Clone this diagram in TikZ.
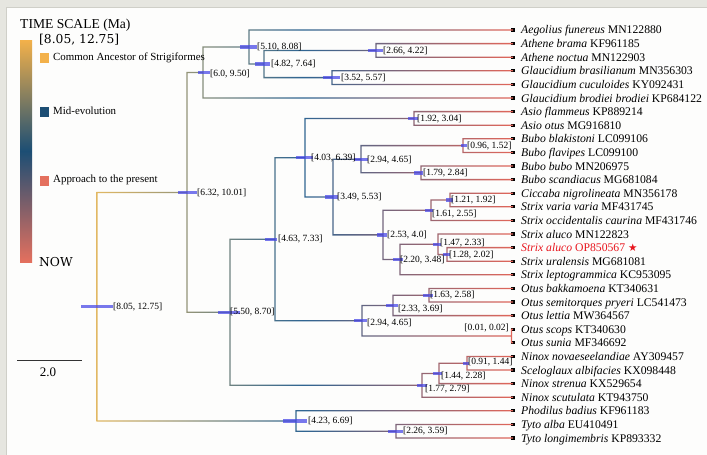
\documentclass[tikz,border=0pt]{standalone}
\usepackage{fontspec}
\setmainfont{Liberation Serif}
\newfontfamily\dvserif{DejaVu Serif}
\newfontfamily\dvsans{DejaVu Sans}
\usetikzlibrary{calc}
\definecolor{tgold}{HTML}{E5BA62}
\definecolor{tblue}{HTML}{2F6592}
\definecolor{tred}{HTML}{E2665A}
\definecolor{lgold}{HTML}{F3B14A}
\definecolor{lblue}{HTML}{1C4E74}
\definecolor{lred}{HTML}{E4705E}
\definecolor{hpdblue}{HTML}{4646E6}
\definecolor{bandgrey}{HTML}{E6E6E0}
\definecolor{edgegrey}{HTML}{CFCFC8}
\definecolor{paper}{HTML}{FDFDFC}
\definecolor{starred}{HTML}{E8141C}
\newcommand\w{0.65}
\newcommand\hpdbar[3]{\fill[hpd] ($(#1)+(-#2,-1.7)$) rectangle ($(#1)+(#3,1.7)$);}
\begin{document}
\begin{tikzpicture}[x=1pt,y=-1pt,
  nlab/.style={anchor=west, inner sep=0pt, font=\fontsize{9.5}{10}\selectfont},
  tiplab/.style={anchor=base west, inner sep=0pt, font=\fontsize{11.7}{13}\selectfont},
  tipsq/.style={rectangle, fill=black, inner sep=0pt, minimum size=3.3pt},
  hpd/.style={fill=hpdblue, fill opacity=0.72},
  legtxt/.style={anchor=west, inner sep=0pt, font=\fontsize{10.9}{12}\selectfont},
  legsq/.style={rectangle, inner sep=0pt, minimum size=9.5pt}]
\useasboundingbox (0,0) rectangle (707,455);
% frame
\fill[bandgrey] (0,0) rectangle (707,455);
\fill[paper] (6,7) rectangle (707,455);
\draw[edgegrey, line width=0.8pt] (6,455) -- (6,7) -- (707,7);

% tips
\foreach \i in {1,...,31} \node[tipsq] (t\i) at (513, {30+(\i-1)*13.6}) {};

% internal nodes
\coordinate (N266) at (376, 50.4);
\coordinate (N352) at (332, 77.6);
\coordinate (N482) at (264, 64);
\coordinate (N510) at (249, 47);
\coordinate (N600) at (203, 72.5);
\coordinate (N192) at (414, 118.4);
\coordinate (N096) at (463, 145.6);
\coordinate (N179) at (421, 172.8);
\coordinate (N294b) at (361, 159.2);
\coordinate (N121) at (450, 200);
\coordinate (N161) at (431, 210.2);
\coordinate (N128) at (447, 254.4);
\coordinate (N147) at (438, 244.2);
\coordinate (N220) at (400, 259.5);
\coordinate (N253) at (383, 234.85);
\coordinate (N349) at (333, 197);
\coordinate (N403) at (305, 157.7);
\coordinate (N163) at (429, 295.2);
\coordinate (N233) at (393, 305.4);
\coordinate (N001) at (511.5, 336);
\coordinate (N294o) at (362, 320.7);
\coordinate (N463) at (275, 239.2);
\coordinate (N091) at (467, 363.2);
\coordinate (N144) at (439, 373.4);
\coordinate (N177) at (422, 385.3);
\coordinate (N550) at (230, 312.25);
\coordinate (N632) at (187, 192.4);
\coordinate (N226) at (396, 431.2);
\coordinate (N423) at (296, 421);
\coordinate (root) at (97, 306.7);

% branches, coloured by time
\begin{scope}
\clip foreach \p/\a/\b in {N266/t2/t3, N352/t4/t5, N482/N266/N352, N510/t1/N482,
  N600/N510/t6, N192/t7/t8, N096/t9/t10, N179/t11/t12, N294b/N096/N179,
  N121/t13/t14, N161/N121/t15, N128/t17/t18, N147/t16/N128, N220/N147/t19,
  N253/N161/N220, N349/N294b/N253, N403/N192/N349, N163/t20/t21, N233/N163/t22,
  N001/t23/t24, N294o/N233/N001, N463/N403/N294o, N091/t25/t26, N144/N091/t27,
  N177/N144/t28, N550/N463/N177, N632/N600/N550, N226/t30/t31, N423/t29/N226,
  root/N632/N423} {
  ($(\p.center |- \a.center)+(-\w,-\w)$) rectangle ($(\p.center |- \b.center)+(\w,\w)$)
  ($(\p.center |- \a.center)+(0,-\w)$) rectangle ($(\a.center)+(0,\w)$)
  ($(\p.center |- \b.center)+(0,-\w)$) rectangle ($(\b.center)+(0,\w)$)
};
\shade[left color=tgold, right color=tred, middle color=tblue] (92,0) rectangle (514,455);
\end{scope}

% HPD bars
\hpdbar{root}{16}{16}
\hpdbar{N632}{9}{10}
\hpdbar{N600}{5}{7}
\hpdbar{N510}{9}{8}
\hpdbar{N482}{9}{6}
\hpdbar{N266}{8}{7}
\hpdbar{N352}{9}{8}
\hpdbar{N550}{12}{10}
\hpdbar{N463}{10}{2}
\hpdbar{N403}{9}{8}
\hpdbar{N192}{6}{4}
\hpdbar{N349}{8}{5}
\hpdbar{N294b}{7}{7}
\hpdbar{N096}{2}{4}
\hpdbar{N179}{7}{2}
\hpdbar{N253}{6}{4}
\hpdbar{N161}{6}{2}
\hpdbar{N121}{4}{3}
\hpdbar{N220}{7}{3}
\hpdbar{N147}{5}{3}
\hpdbar{N128}{4}{3}
\hpdbar{N294o}{8}{5}
\hpdbar{N233}{7}{5}
\hpdbar{N163}{6}{4}
\hpdbar{N177}{5}{5}
\hpdbar{N144}{6}{3}
\hpdbar{N091}{4}{2}
\hpdbar{N423}{13}{11}
\hpdbar{N226}{8}{7}

% node labels
\node[nlab] (Lroot) at (113,307) {[8.05, 12.75]};
\node[nlab] (L632) at (197,193) {[6.32, 10.01]};
\node[nlab] (L600) at (210,74) {[6.0, 9.50]};
\node[nlab] (L510) at (257,47) {[5.10, 8.08]};
\node[nlab] (L482) at (271,64) {[4.82, 7.64]};
\node[nlab] (L266) at (383,51) {[2.66, 4.22]};
\node[nlab] (L352) at (341,78) {[3.52, 5.57]};
\node[nlab] (L550) at (230,312) {[5.50, 8.70]};
\node[nlab] (L463) at (278,239) {[4.63, 7.33]};
\node[nlab] (L403) at (311,158) {[4.03, 6.39]};
\node[nlab] (L192) at (417,119) {[1.92, 3.04]};
\node[nlab] (L349) at (337,197) {[3.49, 5.53]};
\node[nlab] (L294b) at (367,160) {[2.94, 4.65]};
\node[nlab] (L096) at (467,146) {[0.96, 1.52]};
\node[nlab] (L179) at (423,173) {[1.79, 2.84]};
\node[nlab] (L253) at (387,235) {[2.53, 4.0]};
\node[nlab] (L161) at (432,214) {[1.61, 2.55]};
\node[nlab] (L121) at (451,200) {[1.21, 1.92]};
\node[nlab] (L220) at (400,260) {[2.20, 3.48]};
\node[nlab] (L147) at (440,243) {[1.47, 2.33]};
\node[nlab] (L128) at (449,255) {[1.28, 2.02]};
\node[nlab] (L294o) at (367,323) {[2.94, 4.65]};
\node[nlab] (L233) at (398,309) {[2.33, 3.69]};
\node[nlab] (L163) at (430,295) {[1.63, 2.58]};
\node[nlab, anchor=east] (L001) at (509,328) {[0.01, 0.02]};
\node[nlab] (L177) at (425,389) {[1.77, 2.79]};
\node[nlab] (L144) at (441,376) {[1.44, 2.28]};
\node[nlab] (L091) at (468,362) {[0.91, 1.44]};
\node[nlab] (L423) at (308,421) {[4.23, 6.69]};
\node[nlab] (L226) at (403,431) {[2.26, 3.59]};

% tip labels
\node[tiplab] (l1) at ($(t1)+(8,4)$) {\textit{Aegolius funereus} MN122880};
\node[tiplab] (l2) at ($(t2)+(8,4)$) {\textit{Athene brama} KF961185};
\node[tiplab] (l3) at ($(t3)+(8,4)$) {\textit{Athene noctua} MN122903};
\node[tiplab] (l4) at ($(t4)+(8,4)$) {\textit{Glaucidium brasilianum} MN356303};
\node[tiplab] (l5) at ($(t5)+(8,4)$) {\textit{Glaucidium cuculoides} KY092431};
\node[tiplab] (l6) at ($(t6)+(8,4)$) {\textit{Glaucidium brodiei brodiei} KP684122};
\node[tiplab] (l7) at ($(t7)+(8,4)$) {\textit{Asio flammeus} KP889214};
\node[tiplab] (l8) at ($(t8)+(8,4)$) {\textit{Asio otus} MG916810};
\node[tiplab] (l9) at ($(t9)+(8,4)$) {\textit{Bubo blakistoni} LC099106};
\node[tiplab] (l10) at ($(t10)+(8,4)$) {\textit{Bubo flavipes} LC099100};
\node[tiplab] (l11) at ($(t11)+(8,4)$) {\textit{Bubo bubo} MN206975};
\node[tiplab] (l12) at ($(t12)+(8,4)$) {\textit{Bubo scandiacus} MG681084};
\node[tiplab] (l13) at ($(t13)+(8,4)$) {\textit{Ciccaba nigrolineata} MN356178};
\node[tiplab] (l14) at ($(t14)+(8,4)$) {\textit{Strix varia varia} MF431745};
\node[tiplab] (l15) at ($(t15)+(8,4)$) {\textit{Strix occidentalis caurina} MF431746};
\node[tiplab] (l16) at ($(t16)+(8,4)$) {\textit{Strix aluco} MN122823};
\node[tiplab, text=starred] (l17) at ($(t17)+(8,4)$) {\textit{Strix aluco} OP850567 {\dvsans\fontsize{10.5}{12}\selectfont ★}};
\node[tiplab] (l18) at ($(t18)+(8,4)$) {\textit{Strix uralensis} MG681081};
\node[tiplab] (l19) at ($(t19)+(8,4)$) {\textit{Strix leptogrammica} KC953095};
\node[tiplab] (l20) at ($(t20)+(8,4)$) {\textit{Otus bakkamoena} KT340631};
\node[tiplab] (l21) at ($(t21)+(8,4)$) {\textit{Otus semitorques pryeri} LC541473};
\node[tiplab] (l22) at ($(t22)+(8,4)$) {\textit{Otus lettia} MW364567};
\node[tiplab] (l23) at ($(t23)+(8,4)$) {\textit{Otus scops} KT340630};
\node[tiplab] (l24) at ($(t24)+(8,4)$) {\textit{Otus sunia} MF346692};
\node[tiplab] (l25) at ($(t25)+(8,4)$) {\textit{Ninox novaeseelandiae} AY309457};
\node[tiplab] (l26) at ($(t26)+(8,4)$) {\textit{Sceloglaux albifacies} KX098448};
\node[tiplab] (l27) at ($(t27)+(8,4)$) {\textit{Ninox strenua} KX529654};
\node[tiplab] (l28) at ($(t28)+(8,4)$) {\textit{Ninox scutulata} KT943750};
\node[tiplab] (l29) at ($(t29)+(8,4)$) {\textit{Phodilus badius} KF961183};
\node[tiplab] (l30) at ($(t30)+(8,4)$) {\textit{Tyto alba} EU410491};
\node[tiplab] (l31) at ($(t31)+(8,4)$) {\textit{Tyto longimembris} KP893332};

% legend
\node[anchor=west, inner sep=0pt, font=\fontsize{13.6}{15}\selectfont] (title) at (20,25) {TIME SCALE (Ma)};
\shade[top color=lgold, bottom color=lred, middle color=lblue] (20,40) rectangle (32,262);
\node[anchor=west, inner sep=0pt, font=\dvserif\fontsize{12.3}{14}\selectfont] (range) at (39,40) {[8.05, 12.75]};
\node[anchor=west, inner sep=0pt, font=\dvserif\fontsize{12.3}{14}\selectfont] (now) at (39,262) {NOW};
\node[legsq, fill=lgold] (sq1) at (44.5,58) {};
\node[legtxt] (lt1) at (53,58) {Common Ancestor of Strigiformes};
\node[legsq, fill=lblue] (sq2) at (44.5,112) {};
\node[legtxt] (lt2) at (53,111) {Mid-evolution};
\node[legsq, fill=lred] (sq3) at (44.5,181) {};
\node[legtxt] (lt3) at (53,180) {Approach to the present};

% scale bar
\coordinate (sb1) at (17,360);
\coordinate (sb2) at (82,360);
\draw[black!80, line width=0.8pt] (sb1) -- (sb2);
\node[inner sep=0pt, font=\fontsize{13}{14}\selectfont] (sbl) at (48,372) {2.0};
\end{tikzpicture}
\end{document}
